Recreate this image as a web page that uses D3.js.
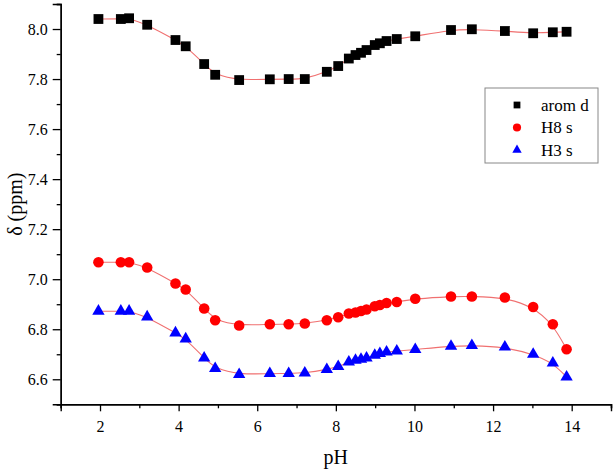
<!DOCTYPE html>
<html>
<head>
<meta charset="utf-8">
<script src="https://cdn.jsdelivr.net/npm/d3@7"></script>
<style>
html,body{margin:0;padding:0;background:#fff;}
svg{display:block;}
text{font-family:"Liberation Serif","Times New Roman",serif;fill:#000;}
</style>
</head>
<body>
<svg id="chart" width="614" height="470"></svg>
<script>
const pH = [1.96, 2.53, 2.74, 3.20, 3.92, 4.18, 4.65, 4.93, 5.54, 6.32, 6.80, 7.21, 7.77, 8.06, 8.33, 8.50, 8.64, 8.78, 8.99, 9.12, 9.29, 9.55, 10.02, 10.93, 11.46, 12.30, 13.02, 13.52, 13.87];
const aromD = [8.040, 8.040, 8.043, 8.017, 7.956, 7.931, 7.860, 7.817, 7.796, 7.799, 7.800, 7.800, 7.829, 7.852, 7.882, 7.896, 7.905, 7.916, 7.936, 7.943, 7.952, 7.960, 7.971, 7.996, 7.999, 7.992, 7.983, 7.987, 7.989];
const h8s = [7.068, 7.068, 7.068, 7.047, 6.983, 6.959, 6.883, 6.836, 6.815, 6.820, 6.820, 6.823, 6.836, 6.848, 6.863, 6.867, 6.873, 6.879, 6.892, 6.897, 6.905, 6.909, 6.922, 6.931, 6.931, 6.927, 6.889, 6.820, 6.720];
const h3s = [6.872, 6.872, 6.872, 6.849, 6.785, 6.761, 6.685, 6.643, 6.619, 6.623, 6.623, 6.625, 6.639, 6.651, 6.669, 6.676, 6.680, 6.685, 6.696, 6.703, 6.709, 6.713, 6.719, 6.732, 6.735, 6.729, 6.700, 6.665, 6.609];
const seriesNames = ["arom d", "H8 s", "H3 s"];
const xMajorTicks = [2, 4, 6, 8, 10, 12, 14];
const xMinorTicks = [1, 3, 5, 7, 9, 11, 13, 15];
const yMajorTicks = [6.6, 6.8, 7.0, 7.2, 7.4, 7.6, 7.8, 8.0];
const yMinorTicks = [6.5, 6.7, 6.9, 7.1, 7.3, 7.5, 7.7, 7.9, 8.1];

const svg = d3.select("#chart");
const L = 60.7, R = 611, T = 4, B = 404.3;
const x = d3.scaleLinear().domain([1, 15]).range([L, R]);
const y = d3.scaleLinear().domain([6.5, 8.1]).range([B, T]);

const series = [
  {name: seriesNames[0], vals: aromD, color: "#000000", sym: d3.symbolSquare, size: 96, lsize: 46},
  {name: seriesNames[1], vals: h8s, color: "#ff0000", sym: d3.symbolCircle, size: 88, lsize: 52},
  {name: seriesNames[2], vals: h3s, color: "#0000ff", sym: d3.symbolTriangle, size: 66, lsize: 38}
];

// fit curves
const line = d3.line().x(d => x(d[0])).y(d => y(d[1])).curve(d3.curveBasis);
series.forEach(s => {
  svg.append("path")
    .attr("d", line(pH.map((p, i) => [p, s.vals[i]])))
    .attr("fill", "none").attr("stroke", "#f07070").attr("stroke-width", 1.1);
});

// markers
series.forEach(s => {
  svg.append("g").selectAll("path").data(pH.map((p, i) => [p, s.vals[i]])).enter()
    .append("path")
    .attr("d", d3.symbol().type(s.sym).size(s.size))
    .attr("transform", d => `translate(${x(d[0])},${y(d[1])})`)
    .attr("fill", s.color);
});

// axes
svg.append("g").attr("transform", `translate(0,${B})`)
  .call(d3.axisBottom(x).tickValues(xMajorTicks).tickSize(7).tickPadding(9).tickFormat(d3.format("d")));
svg.append("g").attr("transform", `translate(0,${B})`)
  .call(d3.axisBottom(x).tickValues(xMinorTicks).tickSize(4).tickFormat(""));
svg.append("g").attr("transform", `translate(${L},0)`)
  .call(d3.axisLeft(y).tickValues(yMajorTicks).tickSize(8).tickPadding(5).tickFormat(d3.format(".1f")));
svg.append("g").attr("transform", `translate(${L},0)`)
  .call(d3.axisLeft(y).tickValues(yMinorTicks).tickSize(4).tickFormat(""));

svg.selectAll(".domain").attr("stroke", "#000").attr("stroke-width", 1.4);
svg.selectAll(".tick line").attr("stroke", "#000").attr("stroke-width", 1.3);
svg.selectAll("g[font-family]").attr("font-family", null);
svg.selectAll(".tick text").style("font-family", '"Liberation Serif","Times New Roman",serif').style("font-size", "16px").attr("fill", "#000");

// axis titles
svg.append("text").attr("x", (L + R) / 2).attr("y", 464).attr("text-anchor", "middle")
  .style("font-size", "20px").text("pH");
svg.append("text").attr("transform", `translate(22,${(T + B) / 2}) rotate(-90)`).attr("text-anchor", "middle")
  .style("font-size", "20px").text("δ (ppm)");

// legend
const lg = svg.append("g");
lg.append("rect").attr("x", 485).attr("y", 88).attr("width", 113).attr("height", 75)
  .attr("fill", "#fff").attr("stroke", "#888").attr("stroke-width", 1);
series.forEach((s, i) => {
  const cy = 105 + i * 22.5;
  lg.append("path").attr("d", d3.symbol().type(s.sym).size(s.lsize))
    .attr("transform", `translate(517,${cy})`).attr("fill", s.color);
  lg.append("text").attr("x", 541).attr("y", cy + 5.5).style("font-size", "17px").text(s.name);
});
</script>
</body>
</html>
